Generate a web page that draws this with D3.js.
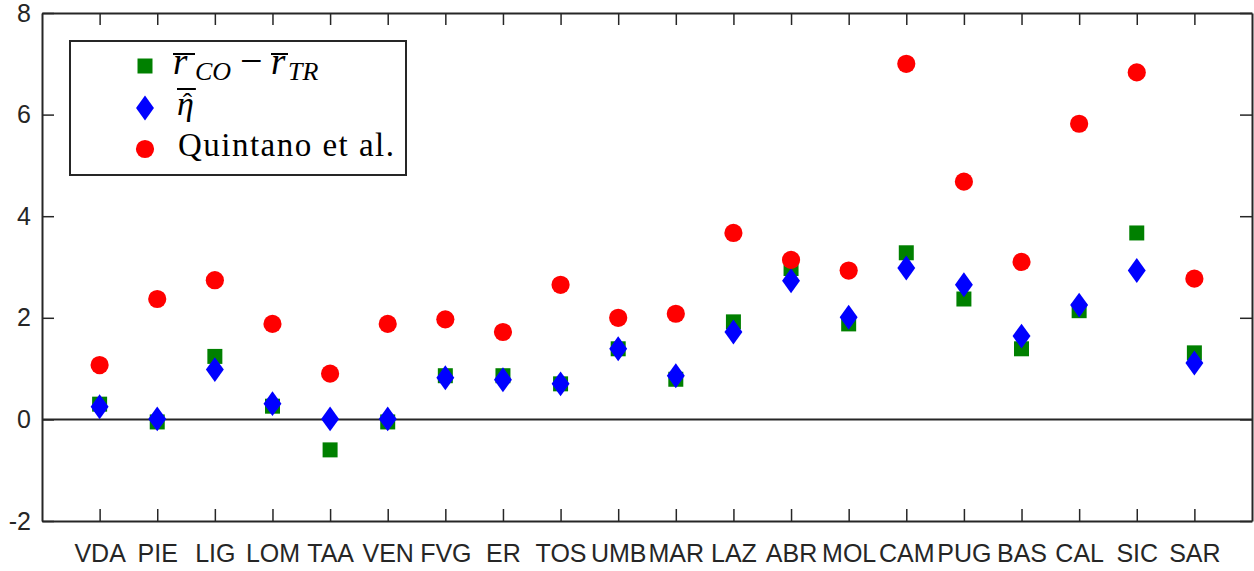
<!DOCTYPE html>
<html>
<head>
<meta charset="utf-8">
<script src="https://cdn.jsdelivr.net/npm/d3@7"></script>
<style>
  html,body{margin:0;padding:0;background:#fff;}
  svg{display:block;}
  .tick text{font-family:"Liberation Sans",Arial,sans-serif;font-size:25px;fill:#262626;}
</style>
</head>
<body>
<svg id="chart" width="1254" height="571"></svg>
<script>
'use strict';
// regions (x axis categories)
const regions = ['VDA','PIE','LIG','LOM','TAA','VEN','FVG','ER','TOS','UMB','MAR','LAZ','ABR','MOL','CAM','PUG','BAS','CAL','SIC','SAR'];
// green squares: mean r_CO - mean r_TR
const rDiff = [0.30,-0.05,1.24,0.26,-0.60,-0.05,0.86,0.86,0.70,1.39,0.79,1.92,2.97,1.88,3.28,2.37,1.39,2.14,3.67,1.31];
// blue diamonds: mean eta hat
const etaHat = [0.25,0.01,0.98,0.31,0.01,0.01,0.82,0.78,0.70,1.39,0.86,1.72,2.73,2.01,2.98,2.65,1.64,2.25,2.93,1.11];
// red circles: Quintano et al.
const quintano = [1.07,2.37,2.74,1.88,0.90,1.88,1.97,1.72,2.65,2.00,2.08,3.67,3.14,2.93,7.00,4.68,3.10,5.82,6.83,2.77];
const yTicks = [-2,0,2,4,6,8];

const W = 1254, H = 571;
const m = {left:42, right:2, top:13, bottom:50};
const svg = d3.select('#chart');
const axColor = '#262626';

const x = d3.scaleLinear().domain([0, regions.length + 1]).range([m.left, W - m.right]);
const y = d3.scaleLinear().domain([-2, 8]).range([H - m.bottom, m.top]);

// tall diamond like matlab 'd'
const tallDiamond = {
  draw(ctx, size){
    const h = Math.sqrt(size) * 0.83, w = h * 0.72;
    ctx.moveTo(0,-h); ctx.lineTo(w,0); ctx.lineTo(0,h); ctx.lineTo(-w,0); ctx.closePath();
  }
};
const shapes = {
  sq: d3.symbol(d3.symbolSquare, 225),
  di: d3.symbol(tallDiamond, 225),
  ci: d3.symbol(d3.symbolCircle, 260)
};

// zero line
svg.append('line')
  .attr('x1', x(0)).attr('x2', x(regions.length + 1))
  .attr('y1', y(0)).attr('y2', y(0))
  .attr('stroke', axColor).attr('stroke-width', 2);

const idx = regions.map((d,i)=>i);
const series = [
  {vals:rDiff, shape:shapes.sq, color:'#008000'},
  {vals:etaHat, shape:shapes.di, color:'#0000ff'},
  {vals:quintano, shape:shapes.ci, color:'#ff0000'}
];
series.forEach(s=>{
  svg.append('g').selectAll('path').data(idx).join('path')
    .attr('d', s.shape)
    .attr('transform', i=>`translate(${x(i+1)},${y(s.vals[i])})`)
    .attr('fill', s.color);
});

// axes (box with inward ticks on all sides)
const tickLen = 12;
const xb = svg.append('g').attr('transform',`translate(0,${y(-2)})`)
  .call(d3.axisBottom(x).tickValues(d3.range(1, regions.length + 1))
    .tickFormat(d=>regions[d-1]).tickSizeInner(-tickLen).tickSizeOuter(0));
const xt = svg.append('g').attr('transform',`translate(0,${y(8)})`)
  .call(d3.axisTop(x).tickValues(d3.range(1, regions.length + 1))
    .tickFormat('').tickSizeInner(-tickLen).tickSizeOuter(0));
const yl = svg.append('g').attr('transform',`translate(${x(0)},0)`)
  .call(d3.axisLeft(y).tickValues(yTicks).tickFormat(d=>String(d)).tickSizeInner(-tickLen).tickSizeOuter(0));
const yr = svg.append('g').attr('transform',`translate(${x(regions.length + 1)},0)`)
  .call(d3.axisRight(y).tickValues(yTicks).tickFormat('').tickSizeInner(-tickLen).tickSizeOuter(0));
[xb,xt,yl,yr].forEach(g=>{
  g.select('.domain').attr('stroke', axColor).attr('stroke-width', 2);
  g.selectAll('.tick line').attr('stroke', axColor).attr('stroke-width', 1.5);
});
xb.selectAll('.tick text').attr('dy','0.71em').attr('y', 23);
yl.selectAll('.tick text').attr('x', -11);

// legend
const lg = svg.append('g');
lg.append('rect').attr('x',70).attr('y',41).attr('width',336).attr('height',134)
  .attr('fill','#fff').attr('stroke',axColor).attr('stroke-width',2);
const rowY = [66, 108, 149];
series.forEach((s,i)=>{
  lg.append('path').attr('d', s.shape).attr('transform',`translate(145,${rowY[i]})`).attr('fill', s.color);
});

const serif = '"Liberation Serif","Times New Roman",serif';
function piece(g, txt, xx, yy, size, italic){
  const t = g.append('text').attr('x', xx).attr('y', yy).text(txt)
    .attr('font-family', serif).attr('font-size', size)
    .attr('font-style', italic ? 'italic' : 'normal').attr('fill', '#000');
  return t.node().getComputedTextLength();
}
function bar(g, x1, x2, yy){
  g.append('line').attr('x1',x1).attr('x2',x2).attr('y1',yy).attr('y2',yy)
    .attr('stroke','#000').attr('stroke-width',2);
}
// row 1: r_CO - r_TR with bars
let cx = 173;
let w = piece(lg, 'r', cx, 74, 37, true);
bar(lg, cx, cx + 22, 54);
cx += 22;
w = piece(lg, 'CO', cx, 80, 26, true); cx = 240;
w = piece(lg, '\u2212', cx, 74, 40, false); cx = 271;
w = piece(lg, 'r', cx, 74, 37, true);
bar(lg, cx, cx + 17, 54);
cx += 17;
piece(lg, 'TR', cx, 80, 26, true);
// row 2: eta with hat (one text element) and bar
const eta = lg.append('text').attr('x', 177).attr('y', 115)
  .attr('font-family', serif).attr('fill', '#000');
eta.append('tspan').attr('font-size', 34).attr('font-style', 'italic').text('\u03b7');
const etaW = eta.node().getComputedTextLength();
const hat = eta.append('tspan').attr('font-size', 28).attr('dy', -3).text('\u02c6');
const hatW = hat.node().getComputedTextLength();
hat.attr('dx', -(etaW / 2) - hatW / 2 + 2);
bar(lg, 177, 177 + etaW + 2, 89);
// row 3
lg.append('text').attr('x',178).attr('y',156).text('Quintano et al.')
  .attr('font-family', serif).attr('font-size', 33)
  .attr('textLength', 216).attr('lengthAdjust','spacing');
</script>
</body>
</html>
